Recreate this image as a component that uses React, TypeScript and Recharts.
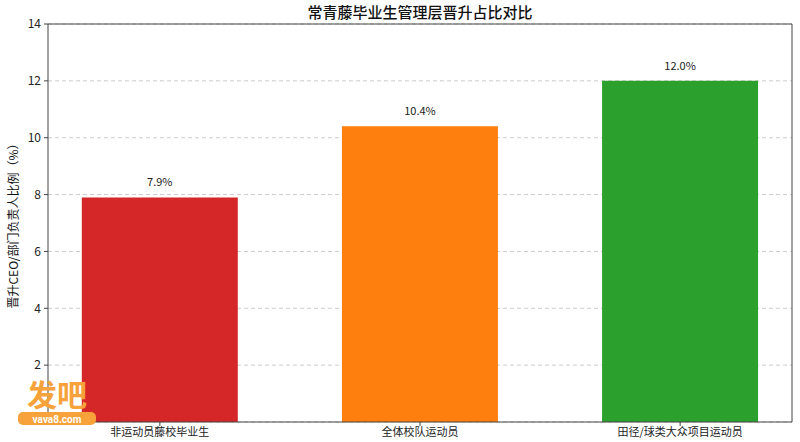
import React from "react";
import {
  BarChart,
  Bar,
  Cell,
  XAxis,
  YAxis,
  CartesianGrid,
  LabelList,
  ReferenceLine,
} from "recharts";

const CATEGORIES = ["非运动员藤校毕业生", "全体校队运动员", "田径/球类大众项目运动员"];
const VALUES = [7.9, 10.4, 12.0];
const BAR_COLORS = ["#d62728", "#ff7f0e", "#2ca02c"];
const Y_TICKS = [2, 4, 6, 8, 10, 12, 14];

const TITLE = "常青藤毕业生管理层晋升占比对比";
const Y_LABEL = "晋升CEO/部门负责人比例（%）";

const X_DOMAIN = [-0.43, 2.43];
const Y_DOMAIN = [0, 14];

const FONT = "'Noto Sans CJK SC', 'Noto Sans', sans-serif";
const AXIS_COLOR = "#444";

const data = CATEGORIES.map((name, i) => ({ x: i, name, value: VALUES[i] }));

export default function App() {
  return (
    <div
      style={{
        position: "fixed",
        left: 0,
        top: 0,
        width: 800,
        height: 442,
        background: "#fff",
        fontFamily: FONT,
      }}
    >
      <BarChart
        width={800}
        height={442}
        data={data}
        margin={{ top: 24, right: 8, bottom: 0, left: 18 }}
      >
        <CartesianGrid
          vertical={false}
          stroke="#cccccc"
          strokeDasharray="4 3"
        />
        <XAxis
          dataKey="x"
          type="number"
          domain={X_DOMAIN}
          ticks={[0, 1, 2]}
          tickFormatter={(v: number) => CATEGORIES[v] ?? ""}
          height={20}
          tickSize={4}
          tickMargin={2}
          stroke={AXIS_COLOR}
          tick={{ fill: "#222", fontSize: 11, fontFamily: FONT }}
          allowDataOverflow
        />
        <YAxis
          domain={Y_DOMAIN}
          ticks={Y_TICKS}
          width={30}
          tickSize={4}
          tickMargin={3}
          stroke={AXIS_COLOR}
          tick={{ fill: "#222", fontSize: 12, fontFamily: FONT }}
          allowDataOverflow
        />
        <ReferenceLine y={Y_DOMAIN[1]} stroke={AXIS_COLOR} strokeWidth={1} />
        <ReferenceLine x={X_DOMAIN[1]} stroke={AXIS_COLOR} strokeWidth={1} />
        <Bar dataKey="value" barSize={156} isAnimationActive={false}>
          {data.map((_, i) => (
            <Cell key={`cell-${i}`} fill={BAR_COLORS[i]} />
          ))}
          <LabelList
            dataKey="value"
            position="top"
            offset={11}
            formatter={(v: number) => `${v.toFixed(1)}%`}
            style={{ fill: "#222", fontSize: 11, fontFamily: FONT }}
          />
        </Bar>
      </BarChart>
      <svg
        width={800}
        height={442}
        style={{ position: "absolute", left: 0, top: 0, pointerEvents: "none" }}
      >
        <text
          x={420}
          y={18}
          textAnchor="middle"
          fontSize={15}
          fontWeight={500}
          fill="#111"
          fontFamily={FONT}
        >
          {TITLE}
        </text>
        <text
          x={18}
          y={223}
          textAnchor="middle"
          fontSize={12}
          fill="#111"
          fontFamily={FONT}
          transform="rotate(-90 18 223)"
        >
          {Y_LABEL}
        </text>
        <text
          x={57}
          y={406}
          textAnchor="middle"
          fontSize={30}
          fontWeight="bold"
          fill="#f7a23a"
          fontFamily={FONT}
        >
          发吧
        </text>
        <rect x={18} y={412} width={78} height={13} rx={5} fill="#f7a23a" />
        <text
          x={57}
          y={423}
          textAnchor="middle"
          fontSize={10}
          fontWeight="bold"
          fill="#fff"
          fontFamily="Roboto, sans-serif"
        >
          vava8.com
        </text>
      </svg>
    </div>
  );
}
